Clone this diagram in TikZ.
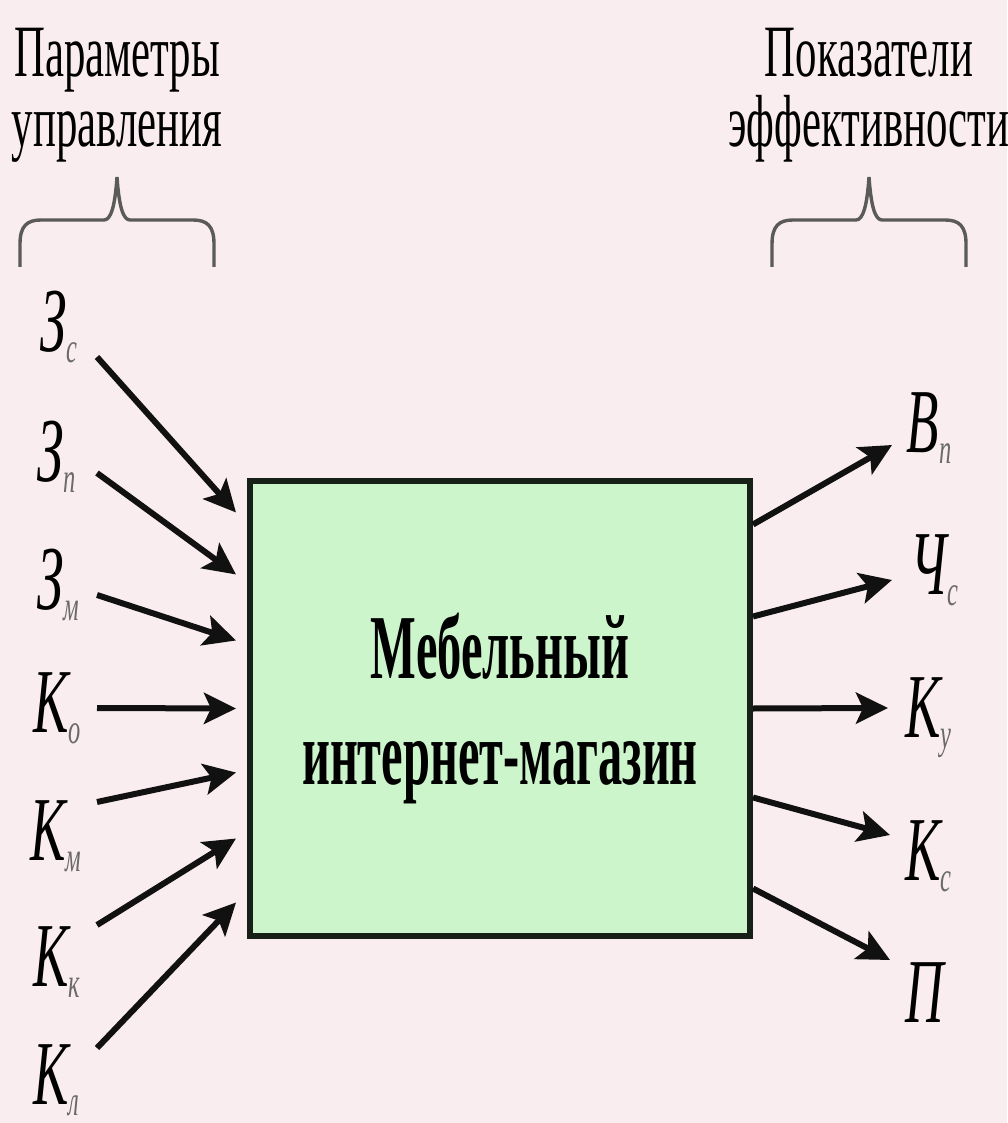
\documentclass[tikz,border=0pt]{standalone}
\usepackage{fontspec}
\usetikzlibrary{arrows.meta,calc}
\newfontfamily\narrowserif{Liberation Serif}[FakeStretch=0.58]
\newfontfamily\boxserif{Liberation Serif}[FakeStretch=0.53]
\definecolor{Paper}{HTML}{FAEDEF}
\definecolor{Mint}{HTML}{CCF5CC}
\definecolor{Frame}{HTML}{162016}
\definecolor{Ink}{HTML}{111111}
\definecolor{SubInk}{HTML}{6A6A6A}
\definecolor{BraceGrey}{HTML}{5A5A5A}
\newcommand{\varlbl}[2]{{\itshape #1}\raisebox{-1.1mm}{\fontsize{12}{12}\selectfont\itshape\color{SubInk}#2}}

\begin{document}
\begin{tikzpicture}[x=0.1mm,y=-0.1mm,
  param/.style={anchor=base west,inner sep=0pt,
    font=\narrowserif\fontsize{26}{26}\selectfont},
  heading/.style={align=center,inner sep=0pt,
    font=\narrowserif\fontsize{21}{20}\selectfont},
  shop/.style={draw=Frame,line width=0.6mm,fill=Mint,
    minimum width=50mm,minimum height=45.5mm,align=center,
    font=\boxserif\bfseries\fontsize{26}{26}\selectfont},
  arr/.style={-{Stealth[length=3.2mm,width=3.1mm,inset=0.7mm]},line width=0.6mm,color=Ink},
  curly/.style={draw=BraceGrey,line width=0.34mm}
]
\useasboundingbox (0,0) rectangle (1007,1123);
\fill[Paper] (0,0) rectangle (1007,1123);

% Headings with their braces.
\node[heading] (hin) at (117,95) {Параметры\\управления};
\node[heading] (hout) at (869,95) {Показатели\\эффективности};
\foreach \cx in {117,869} {
  \draw[curly] ({\cx-97},267) -- ({\cx-97},244)
    .. controls ({\cx-97},226) and ({\cx-90},220) .. ({\cx-76},220)
    -- ({\cx-13},220)
    .. controls ({\cx-6},220) and ({\cx-2},206) .. (\cx,177)
    .. controls ({\cx+2},206) and ({\cx+6},220) .. ({\cx+13},220)
    -- ({\cx+76},220)
    .. controls ({\cx+90},220) and ({\cx+97},226) .. ({\cx+97},244)
    -- ({\cx+97},267);
}

% The shop itself.
\node[shop] (shop) at (500,708.5) {Мебельный\\[1.4mm]интернет-магазин};

% Control parameters (inputs).
\foreach \i/\a/\b/\bx/\by/\sy/\dy in {1/З/с/40/352/357/-196,2/З/п/37/482/473/-134,
    3/З/м/37/610/595/-68,4/К/о/33/732/708/0,5/К/м/30/860/802/64,
    6/К/к/33/986/925/130,7/К/л/33/1104/1048/194} {
  \node[param] (p\i) at (\bx,\by) {\varlbl{\a}{\b}};
  \coordinate (src\i) at (97,\sy);
  \draw[arr] (src\i) -- ($(shop.west)+(-11,\dy)$);
}

% Efficiency indicators (outputs).
\foreach \i/\a/\b/\bx/\by/\dy/\tx/\ty in {1/В/п/906/453/-184/892/445,2/Ч/с/910/595/-92/892/580,
    3/К/у/905/737/0/888/708,4/К/с/905/880/89/890/835,5/П//905/1022/180/890/960} {
  \node[param] (e\i) at (\bx,\by) {\varlbl{\a}{\b}};
  \coordinate (dst\i) at (\tx,\ty);
  \draw[arr] ($(shop.east)+(0,\dy)$) -- (dst\i);
}
\end{tikzpicture}
\end{document}
